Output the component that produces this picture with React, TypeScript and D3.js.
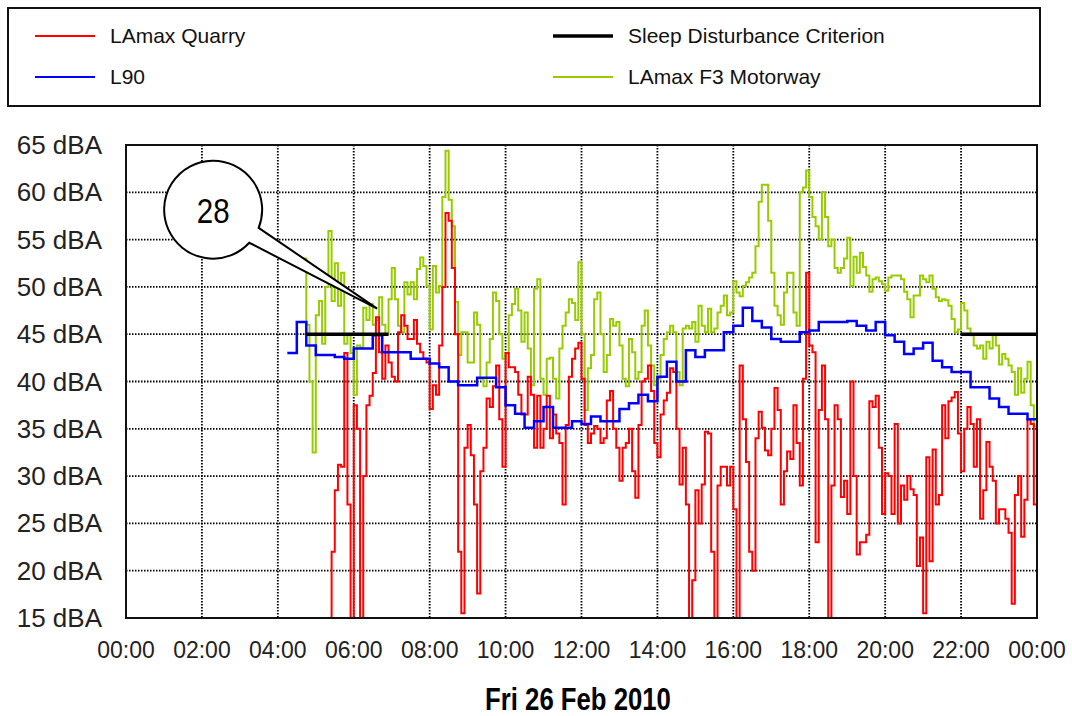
import React, { Component } from 'react'
import * as d3 from 'd3'

// LAmax Quarry, 5 minute readings from 04:40 (null = no reading), one row per hour
const quarryStart = '04:40'
const quarryStep = 5
const quarry = [
	null, null, null, null,
	null, null, null, 12, 14, 22, 28.5, 31.2, 31, 43, 27, 14,
	37.5, 35, 14, 30, 37.5, 38.5, 40.9, 46.8, 43.1, 40.3, 43.8, 42,
	40.5, 40, 45.2, 47, 45.9, 44.5, 44.5, 46.5, 44, 43.1, 42.4, 42,
	37.1, 39.6, 38.6, 43.8, 50, 57.8, 57, 52, 45, 22, 15.5, 33,
	35.4, 32.2, 27, 17.6, 30.5, 33, 38.2, 37.3, 39.5, 41.7, 36, 31,
	43, 41.5, 41.5, 41, 38.6, 36.5, 36.5, 40.5, 38.6, 33, 38.5, 33,
	35, 38.5, 34, 36.5, 34.5, 33.5, 27, 35.4, 40.5, 42.4, 43.5, 44.1,
	40.3, 35.4, 33.5, 34.5, 35.3, 35, 33.5, 34, 38, 39, 35, 33,
	29.5, 33, 33.5, 35, 30.5, 27.7, 35.4, 40, 40.3, 41.7, 39, 33.5,
	32, 36.5, 38, 38.8, 41.4, 41, 35, 29.1, 33, 27, 15, 19,
	28.5, 25, 29.1, 34.7, 34.5, 22, 15, 29, 31, 31, 29, 31,
	26.5, 15, 41.7, 36, 31.5, 22, 20, 34, 36.8, 35.1, 32.7, 32.2,
	35, 39.3, 37, 27, 30.5, 32.6, 31.8, 37.5, 33.5, 29, 40.3, 51.5,
	43.8, 43.1, 23, 37, 41.7, 36, 14, 29, 37.5, 36, 27.8, 29.5,
	26, 40, 30, 21.7, 23, 23, 23.8, 37.9, 37.3, 38.5, 33, 26,
	30.3, 30, 26, 35.5, 25, 29, 27.5, 30, 28.6, 28, 20.5, 23.5,
	15.5, 32, 21, 32.8, 27, 28, 37.5, 34, 37.9, 38.3, 38.9, 34.5,
	30.5, 35, 37.3, 35.5, 31, 36, 25.5, 28.5, 33.6, 31, 29.5, 25,
	26.5, 26.5, 25.5, 24, 16.5, 28, 30, 23.6, 27.5, 36, 35.5, 27,
	25.5
]

// LAmax F3 Motorway, 5 minute readings from 04:40
const motorwayStart = '04:40'
const motorwayStep = 5
const motorway = [
	53, 46, 40, 32.5,
	47, 48.5, 44, 50, 55.9, 48.5, 52.5, 48, 51.5, 44, 45, 43,
	38.6, 43.8, 43.6, 47.8, 46.5, 48.2, 46, 46.5, 48.9, 46, 45, 48.7,
	52, 48.7, 45.9, 45.2, 50.5, 49.2, 50.5, 48.7, 51.9, 53.1, 52.2, 50.1,
	45.5, 52.2, 49.4, 50.1, 59.5, 64.4, 59.2, 56.4, 48.4, 42.8, 45.2, 45.2,
	42, 42, 47.3, 46, 40.3, 39.5, 42, 44.5, 49.4, 48.5, 45, 42.4,
	43, 47, 48.2, 49.8, 47.5, 44.2, 47.3, 43.5, 39.6, 49.8, 50.8, 40.3,
	38.6, 42.4, 42.5, 40.3, 38.2, 43.5, 45.9, 47.3, 48.7, 48.3, 46.5, 52.6,
	45, 37, 41.4, 42.8, 48.7, 49.4, 45, 41, 42.8, 46.6, 45.9, 46.3,
	43.8, 40.3, 39.5, 44.5, 43.1, 40.3, 41, 45.9, 47.5, 43.8, 41.7, 39.6,
	40.3, 42.8, 44.5, 45.2, 45.9, 45.2, 41, 39.6, 45.6, 45.9, 45.6, 46.3,
	44.2, 48, 45.9, 45.2, 47.7, 45.2, 45.6, 47.3, 48, 49.1, 47, 47.3,
	50.6, 49.4, 49, 50.1, 50.5, 51, 51.5, 54.3, 59, 60.8, 60.8, 57,
	51.5, 48, 47, 46, 49.4, 51.5, 51.5, 47.3, 45.9, 60, 60.5, 62.3,
	59.5, 57.4, 56.4, 55, 60, 57.4, 54.3, 55, 52, 51.5, 52, 53,
	55.2, 50.1, 53.2, 51.5, 53.6, 52.1, 51.2, 49.5, 50.8, 51, 50.6, 50.3,
	49.6, 51, 51.2, 51.2, 51.2, 50.8, 49.5, 48.7, 46.8, 49.1, 49.1, 51.2,
	50.8, 50.5, 51.2, 49.8, 48.9, 48.5, 48.7, 48.6, 48, 46.6, 45.2, 45.5,
	48.3, 47.5, 45.6, 44.9, 43.8, 43.5, 43.8, 42.4, 44.2, 43.5, 45, 43.8,
	41.8, 42.9, 42.4, 41.7, 41, 38.6, 41.4, 38.8, 40.3, 42.1, 37.5, 35.3,
	32.3
]

// L90, 15 minute readings from 04:15
const l90Start = '04:15'
const l90Step = 15
const l90 = [
	43, 46.3, 43.8,
	42.8, 42.8, 42.6, 42.4,
	43.5, 43.5, 44.9, 43.1,
	43.1, 43.1, 42.4, 42.4,
	41.9, 41.5, 40, 39.6,
	39.6, 40.4, 40.4, 39.4,
	37.5, 36.6, 35.1, 35.8,
	37.3, 35.1, 35.1, 35.8,
	35.5, 36.3, 35.8, 35.8,
	37.1, 37.7, 38.6, 37.9,
	40.5, 42.1, 40, 43.3,
	42.6, 43.3, 43.3, 45.2,
	45.9, 47.8, 46.4, 45.7,
	44.5, 44.2, 44.2, 45.2,
	45.4, 46.3, 46.3, 46.3,
	46.4, 45.9, 45.4, 46.3,
	44.9, 44.2, 42.9, 43.5,
	44.1, 42.2, 41.5, 41,
	41, 39.4, 39.4, 38.2,
	37.3, 36.6, 36.6, 36,
	36
]

// sleep disturbance criterion (night time only)
const criterionFrom = ['04:45', '22:00']
const criterionTo = ['06:55', '24:00']
const criterionLevel = 45

const yTicks = [15, 20, 25, 30, 35, 40, 45, 50, 55, 60, 65]
const xTicks = [0, 2, 4, 6, 8, 10, 12, 14, 16, 18, 20, 22, 24]
const xTickLabels = ['00:00', '02:00', '04:00', '06:00', '08:00', '10:00', '12:00',
	'14:00', '16:00', '18:00', '20:00', '22:00', '00:00']

const legendNames = ['LAmax Quarry', 'L90', 'Sleep Disturbance Criterion', 'LAmax F3 Motorway']
const dateLabel = 'Fri 26 Feb 2010'
const calloutLabel = '28'
const calloutTime = '06:37'
const calloutLevel = 47.7

const colors = {
	quarry: '#ff0000',
	l90: '#0000ff',
	criterion: '#000000',
	motorway: '#99cc00'
}

const toHours = (s: string) => {
	const [h, m] = s.split(':').map(Number)
	return h + m / 60
}

const toPoints = (start: string, step: number, values: (number | null)[]) =>
	values.map((v, i) => ({ t: toHours(start) + i * step / 60, v }))

export default class App extends Component {
	container: HTMLDivElement | null = null

	componentDidMount () {
		const width = 1072
		const height = 716
		const font = '"Liberation Sans", Arial, sans-serif'

		d3.select(this.container).selectAll('*').remove()

		const svg = d3.select(this.container)
			.append('svg')
				.attr('width', width)
				.attr('height', height)
				.style('display', 'block')
				.style('font-family', font)

		svg.append('rect')
			.attr('width', width)
			.attr('height', height)
			.attr('fill', '#fff')

		const x = d3.scaleLinear().domain([0, 24]).range([126, 1037])
		const y = d3.scaleLinear().domain([15, 65]).range([618, 145])

		// legend box
		svg.append('rect')
			.attr('x', 8)
			.attr('y', 8)
			.attr('width', 1032)
			.attr('height', 98)
			.attr('fill', '#fff')
			.attr('stroke', '#111')
			.attr('stroke-width', 2)

		const legendItems = [
			{ name: legendNames[0], color: colors.quarry, w: 2, lx: 35, ly: 36 },
			{ name: legendNames[1], color: colors.l90, w: 2, lx: 35, ly: 77 },
			{ name: legendNames[2], color: colors.criterion, w: 3.5, lx: 553, ly: 36 },
			{ name: legendNames[3], color: colors.motorway, w: 2, lx: 553, ly: 77 }
		]
		const legend = svg.append('g')
		legend.selectAll('line')
			.data(legendItems)
			.enter()
			.append('line')
				.attr('x1', d => d.lx)
				.attr('x2', d => d.lx + 60)
				.attr('y1', d => d.ly)
				.attr('y2', d => d.ly)
				.attr('stroke', d => d.color)
				.attr('stroke-width', d => d.w)
		legend.selectAll('text')
			.data(legendItems)
			.enter()
			.append('text')
				.attr('x', d => d.lx + 75)
				.attr('y', d => d.ly + 7)
				.attr('font-size', 21)
				.attr('fill', '#111')
				.text(d => d.name)

		// grid
		const grid = svg.append('g')
			.attr('stroke', '#000')
			.attr('stroke-width', 1.8)
			.attr('stroke-dasharray', '1.5,1.5')
		grid.selectAll('.gx')
			.data(xTicks.slice(1, -1))
			.enter()
			.append('line')
				.attr('x1', d => x(d))
				.attr('x2', d => x(d))
				.attr('y1', y(65))
				.attr('y2', y(15))
		grid.selectAll('.gy')
			.data(yTicks.slice(1, -1))
			.enter()
			.append('line')
				.attr('x1', x(0))
				.attr('x2', x(24))
				.attr('y1', d => y(d))
				.attr('y2', d => y(d))

		// tick labels
		svg.append('g')
			.selectAll('text')
			.data(yTicks)
			.enter()
			.append('text')
				.attr('x', 102)
				.attr('y', d => y(d) + 9)
				.attr('text-anchor', 'end')
				.attr('font-size', 26)
				.attr('fill', '#222')
				.text(d => `${d} dBA`)

		svg.append('g')
			.selectAll('text')
			.data(xTicks)
			.enter()
			.append('text')
				.attr('x', d => x(d))
				.attr('y', 658)
				.attr('text-anchor', 'middle')
				.attr('font-size', 23)
				.attr('fill', '#222')
				.text((d, i) => xTickLabels[i])

		svg.append('text')
			.attr('transform', 'translate(578, 710) scale(0.83, 1)')
			.attr('text-anchor', 'middle')
			.attr('font-size', 31)
			.attr('font-weight', 'bold')
			.text(dateLabel)

		// series
		svg.append('clipPath')
			.attr('id', 'plot-clip')
			.append('rect')
				.attr('x', x(0))
				.attr('y', y(65))
				.attr('width', x(24) - x(0))
				.attr('height', y(15) - y(65))

		const line = d3.line<{ t: number, v: number | null }>()
			.defined(d => d.v != null)
			.x(d => x(d.t))
			.y(d => y(d.v as number))
			.curve(d3.curveStepAfter)

		const plot = svg.append('g').attr('clip-path', 'url(#plot-clip)')

		const series = [
			{ pts: toPoints(motorwayStart, motorwayStep, motorway), color: colors.motorway, w: 2 },
			{ pts: toPoints(quarryStart, quarryStep, quarry), color: colors.quarry, w: 2 },
			{ pts: toPoints(l90Start, l90Step, l90), color: colors.l90, w: 2.5 }
		]
		plot.selectAll('path')
			.data(series)
			.enter()
			.append('path')
				.attr('d', d => line(d.pts))
				.attr('fill', 'none')
				.attr('stroke', d => d.color)
				.attr('stroke-width', d => d.w)
				.attr('stroke-linejoin', 'miter')

		plot.selectAll('.crit')
			.data(criterionFrom)
			.enter()
			.append('line')
				.attr('x1', d => x(toHours(d)))
				.attr('x2', (d, i) => x(toHours(criterionTo[i])))
				.attr('y1', y(criterionLevel))
				.attr('y2', y(criterionLevel))
				.attr('stroke', colors.criterion)
				.attr('stroke-width', 3.5)

		// frame
		svg.append('rect')
			.attr('x', x(0))
			.attr('y', y(65))
			.attr('width', x(24) - x(0))
			.attr('height', y(15) - y(65))
			.attr('fill', 'none')
			.attr('stroke', '#111')
			.attr('stroke-width', 2)

		// callout bubble
		const tipX = x(toHours(calloutTime))
		const tipY = y(calloutLevel)
		const cx = tipX - 164
		const cy = tipY - 99
		const r = 49
		const a1 = 21.8 * Math.PI / 180
		const a2 = 42.5 * Math.PI / 180
		const p1 = [cx + r * Math.cos(a1), cy + r * Math.sin(a1)]
		const p2 = [cx + r * Math.cos(a2), cy + r * Math.sin(a2)]
		svg.append('path')
			.attr('d', `M${p1[0]},${p1[1]}L${tipX},${tipY}L${p2[0]},${p2[1]}A${r},${r} 0 1 1 ${p1[0]},${p1[1]}Z`)
			.attr('fill', '#fff')
			.attr('stroke', '#000')
			.attr('stroke-width', 2)
		svg.append('text')
			.attr('transform', `translate(${cx}, ${cy + 13}) scale(0.82, 1)`)
			.attr('text-anchor', 'middle')
			.attr('font-size', 36)
			.text(calloutLabel)
	}

	render () {
		return (
			<div
				style={{ position: 'absolute', left: 0, top: 0 }}
				ref={ container => { this.container = container } }>
			</div>
		)
	}
}
